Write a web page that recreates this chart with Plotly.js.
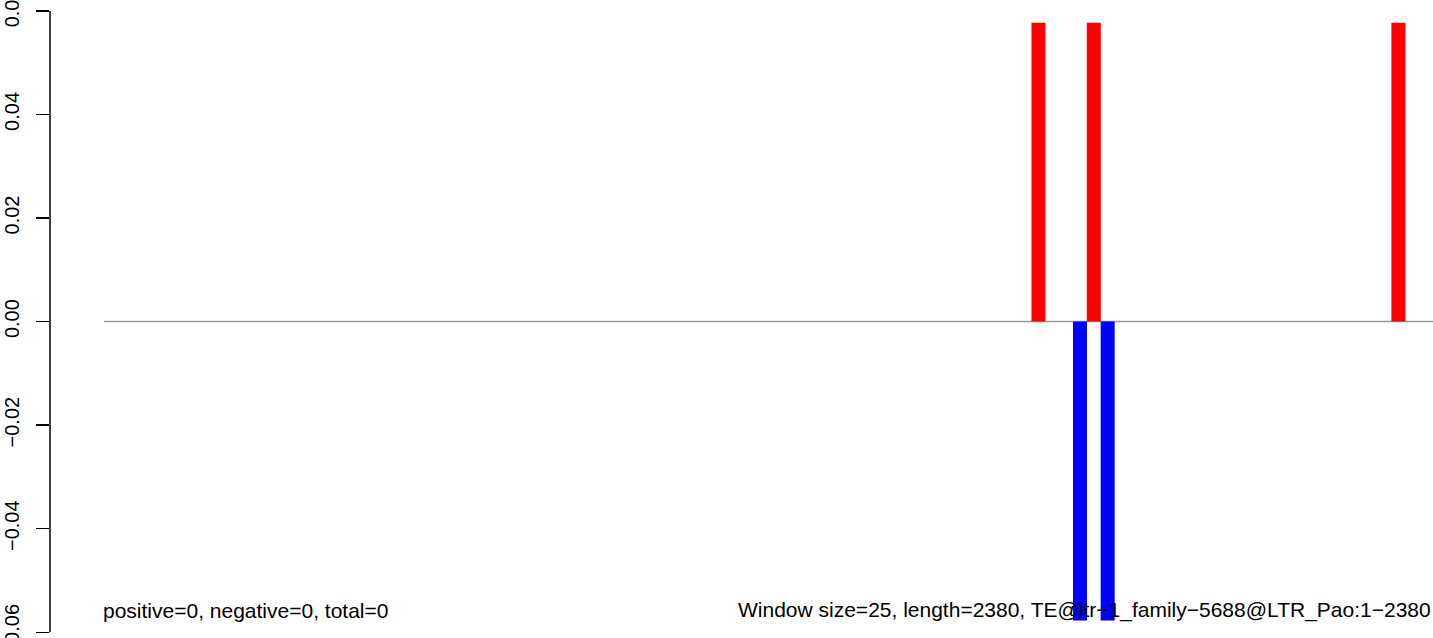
<!DOCTYPE html>
<html>
<head>
<meta charset="utf-8">
<script src="https://cdn.plot.ly/plotly-3.0.1.min.js"></script>
<style>html,body{margin:0;padding:0;background:#fff;}#chart{width:1433px;height:638px;}</style>
</head>
<body>
<div id="chart"></div>
<script>
// Window indices (window size 25 bp, 2380 bp -> 96 windows) and their values
const windowCount = 96;
const positiveWindows = [67, 71, 93];
const positiveValues = [0.0577, 0.0577, 0.0577];
const negativeWindows = [70, 72];
const negativeValues = [-0.0577, -0.0577];
const yTickValues = [-0.06, -0.04, -0.02, 0.00, 0.02, 0.04, 0.06];
const leftLabel = "positive=0, negative=0, total=0";
const rightLabel = "Window size=25, length=2380, TE@ltr\u22121_family\u22125688@LTR_Pao:1\u22122380";

const FONT = "Liberation Sans, Arial, Helvetica, sans-serif";
const barWidth = 1.011;
const xMin = -3.9;

const traces = [
  {
    type: "bar",
    x: positiveWindows.map(w => w + 0.5),
    y: positiveValues,
    width: barWidth,
    marker: {color: "#FF0000", line: {width: 0}},
    hoverinfo: "x+y",
    showlegend: false
  },
  {
    type: "bar",
    x: negativeWindows.map(w => w + 0.5),
    y: negativeValues,
    width: barWidth,
    marker: {color: "#0000FF", line: {width: 0}},
    hoverinfo: "x+y",
    showlegend: false
  }
];

const layout = {
  width: 1433,
  height: 638,
  margin: {l: 50, r: 0, t: 0, b: 0, pad: 0},
  paper_bgcolor: "#ffffff",
  plot_bgcolor: "#ffffff",
  font: {family: FONT, color: "#000000", size: 20},
  barmode: "overlay",
  showlegend: false,
  xaxis: {
    range: [xMin, windowCount],
    visible: false,
    showgrid: false,
    zeroline: false,
    fixedrange: true
  },
  yaxis: {
    range: [-0.0611, 0.0621],
    tickvals: yTickValues,
    tickformat: ".2f",
    tickangle: -90,
    ticks: "outside",
    ticklen: 13,
    tickwidth: 1.5,
    tickcolor: "#000000",
    showline: false,
    showgrid: false,
    zeroline: false,
    tickfont: {family: FONT, size: 20, color: "#000000"},
    ticklabelstandoff: 9,
    ticklabeloverflow: "allow",
    fixedrange: true
  },
  shapes: [
    {
      type: "line", xref: "x", yref: "y",
      x0: 0, x1: windowCount, y0: 0, y1: 0,
      line: {color: "#999999", width: 1.5},
      layer: "below"
    },
    {
      type: "line", xref: "paper", yref: "y",
      x0: 0, x1: 0, y0: yTickValues[0], y1: yTickValues[yTickValues.length - 1],
      line: {color: "#000000", width: 1.5},
      layer: "above"
    }
  ],
  annotations: [
    {
      xref: "x", yref: "y", x: 0, y: -0.0557, xshift: -3,
      xanchor: "left", yanchor: "middle",
      text: leftLabel, showarrow: false,
      font: {family: FONT, size: 21, color: "#000000"}
    },
    {
      xref: "x", yref: "y", x: windowCount - 0.2, y: -0.0557, xshift: 3,
      xanchor: "right", yanchor: "middle",
      text: rightLabel, showarrow: false,
      font: {family: FONT, size: 21, color: "#000000"}
    }
  ]
};

Plotly.newPlot("chart", traces, layout, {displayModeBar: false, staticPlot: true});
</script>
</body>
</html>
